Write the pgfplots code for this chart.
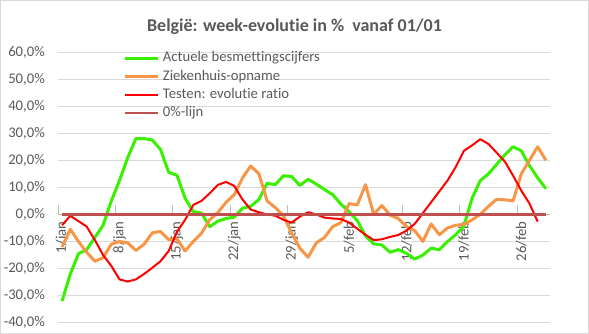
\documentclass[border=0pt]{standalone}
\usepackage{fontspec}
\setmainfont{Carlito}[Ligatures=NoCommon]
\usepackage{pgfplots}
\pgfplotsset{compat=1.18}
\usepackage{pgfplotstable}
\definecolor{cgreen}{HTML}{38F000}
\definecolor{corange}{HTML}{F79646}
\definecolor{cred}{HTML}{FF0000}
\definecolor{cbrown}{HTML}{C0504D}
\definecolor{cgrid}{HTML}{D9D9D9}
\definecolor{ctext}{HTML}{595959}

\pgfplotstableread{
i g o r z
0 -32 -12 -4 0
1 -22 -5.5 -0.5 0
2 -14.5 -10 -2.5 0
3 -13 -14 -4.5 0
4 -8.5 -17.3 -9.5 0
5 -4 -16 -15 0
6 5 -11 -19 0
7 12.5 -10 -24 0
8 21 -10.5 -24.8 0
9 28 -13.3 -24 0
10 28 -11 -22 0
11 27.5 -6.8 -19.7 0
12 24 -6.3 -17.3 0
13 15.5 -9.3 -13.5 0
14 14.5 -9 -6.5 0
15 6 -13.5 -2 0
16 1 -10 3.5 0
17 0.5 -7 5 0
18 -4.5 -2 7.8 0
19 -2.5 0.7 10.9 0
20 -1.5 4.5 12 0
21 -1 7.3 10.5 0
22 2.3 13.5 5.5 0
23 3 17.9 1.8 0
24 5.5 15 0.8 0
25 11.5 5 0 0
26 11 2.5 -0.5 0
27 14.3 -0.5 -2 0
28 14 -7 -3 0
29 10.7 -12.5 -0.8 0
30 13 -15.8 0.8 0
31 11.2 -10.5 0 0
32 9.2 -8.5 -1.2 0
33 7.3 -4.5 -1.5 0
34 3.8 -3 -1.7 0
35 1 4 -3 0
36 -2.3 3.5 -5.3 0
37 -8 11 -7.5 0
38 -10.9 0 -9.5 0
39 -11.3 3.3 -9.2 0
40 -14 -0.3 -8.3 0
41 -13 -1.5 -7.6 0
42 -14.4 -4.5 -6 0
43 -16.5 -6 -3.5 0
44 -15 -10 0.5 0
45 -12.5 -3.5 4.5 0
46 -13 -7.5 8.5 0
47 -10 -5 12.5 0
48 -7.5 -4 17.5 0
49 -4.3 -3.7 23.5 0
50 6 -2 25.5 0
51 12.5 0 27.8 0
52 15 3 26 0
53 18.5 5.6 22.8 0
54 22 5.4 19.5 0
55 25 5 14.3 0
56 23.5 15 8.8 0
57 18 20 4 0
58 13.5 25 -2.7 0
59 9.5 20 nan 0
}\data

\begin{document}
\begin{tikzpicture}
\path[use as bounding box] (0,0) rectangle (589bp,334bp);
\draw[cgrid, line width=0.75bp] (0.4bp,0.4bp) rectangle (588.6bp,333.6bp);
\node[anchor=base, font=\bfseries\fontsize{18bp}{20bp}\selectfont, text=ctext] at (294.5bp,302.3bp) {België: week-evolutie in \%\ \ vanaf 01/01};
\begin{axis}[
  at={(58bp,11.3bp)}, anchor=south west,
  scale only axis, width=492bp, height=270.7bp,
  xmin=-0.5, xmax=59.5, ymin=-40, ymax=60,
  axis x line*=middle, axis y line*=left,
  x axis line style={-, draw=ctext!40, line width=0.75bp},
  y axis line style={draw=none},
  hide obscured x ticks=false,
  major tick length=9bp,
  ytick={-40,-30,...,60},
  yticklabels={{-40,0\%},{-30,0\%},{-20,0\%},{-10,0\%},{0,0\%},{10,0\%},{20,0\%},{30,0\%},{40,0\%},{50,0\%},{60,0\%}},
  ymajorgrids, grid style={cgrid, line width=0.75bp},
  ytick style={draw=none},
  yticklabel style={font=\fontsize{14.7bp}{17bp}\selectfont, text=ctext, inner sep=0pt, xshift=-13bp},
  xtick={-0.5,6.5,...,55.5},
  xticklabels={1/jan,8/jan,15/jan,22/jan,29/jan,5/feb,12/feb,19/feb,26/feb},
  xtick style={draw=ctext!40, line width=0.75bp},
  xticklabel style={xshift=4.1bp, rotate=90, anchor=east, font=\fontsize{14.7bp}{17bp}\selectfont, text=ctext, inner sep=0pt, inner xsep=7bp},
  legend style={at={(axis description cs:0.134,1.0044)}, anchor=north west, draw=none, fill=none, inner sep=0pt, outer sep=0pt, row sep=3.3bp, font=\fontsize{14.7bp}{17bp}\selectfont, text=ctext, nodes={inner sep=0pt, text height=11bp, text depth=4bp}, /tikz/every odd column/.append style={column sep=3bp}},
  legend cell align=left,
  legend image code/.code={\draw[#1] (0bp,0bp) -- (33bp,0bp);},
]
\addplot[cgreen, line width=3bp, line join=round] table[x=i, y=g] {\data};
\addlegendentry{Actuele besmettingscijfers}
\addplot[corange, line width=3bp, line join=round] table[x=i, y=o] {\data};
\addlegendentry{Ziekenhuis-opname}
\addplot[cred, line width=2bp, line join=round] table[x=i, y=r] {\data};
\addlegendentry{Testen: evolutie ratio}
\addplot[cbrown, line width=2.5bp] table[x=i, y=z] {\data};
\addlegendentry{0\%-lijn}
\end{axis}
\end{tikzpicture}
\end{document}
